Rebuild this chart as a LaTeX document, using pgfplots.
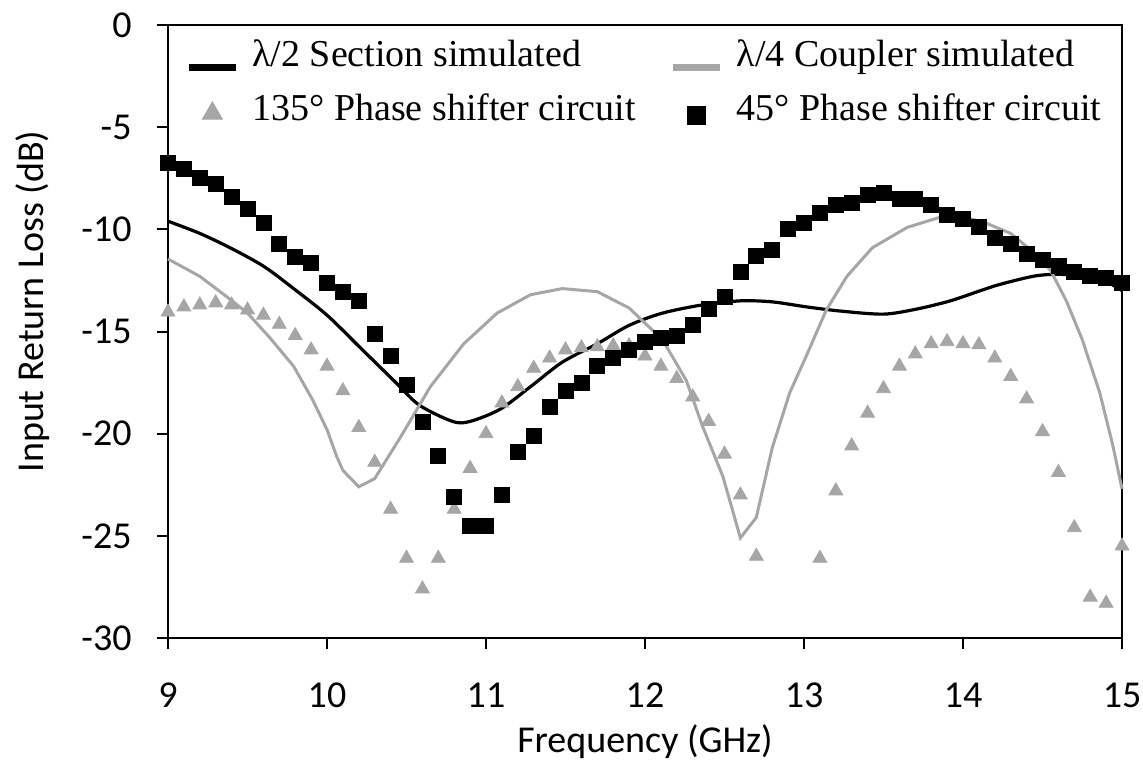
\documentclass[border=0pt]{standalone}
\usepackage{fontspec}
\setmainfont{Carlito}
\newfontfamily\legendfont{Liberation Serif}
\usepackage{pgfplots}
\pgfplotsset{compat=1.18}
\definecolor{ltgray}{HTML}{A6A6A6}

\pgfplotsset{
  lineleg/.style={legend image code/.code={\draw[##1, line width=3.5pt] (0pt,-5pt) -- (23.5pt,-5pt);}},
  triLeg/.style={legend image code/.code={\draw[##1, mark size=5.8pt] plot coordinates {(11.75pt,-1pt)};}},
  sqLeg/.style={legend image code/.code={\draw[##1, mark size=4.5pt] plot coordinates {(11.75pt,-2pt)};}},
}

\begin{document}
\fontsize{19}{23}\selectfont
\begin{tikzpicture}
\begin{axis}[
  scale only axis, width=477pt, height=306.5pt,
  xmin=9, xmax=15, ymin=-30, ymax=0,
  xtick={9,10,...,15}, ytick={-30,-25,...,0},
  xtick pos=left, ytick pos=left,
  tick align=outside, major tick length=5.5pt,
  axis line style={line width=1pt},
  every tick/.style={black, line width=1pt},
  /pgf/number format/assume math mode=true,
  ticklabel style={font=\fontsize{19}{23}\selectfont},
  xticklabel style={anchor=base, inner sep=0pt, yshift=-29pt},
  yticklabel style={anchor=east, inner sep=0pt, xshift=-12.5pt},
  xlabel={Frequency (GHz)},
  ylabel={Input Return Loss (dB)},
  xlabel style={at={(axis description cs:0.5,0)}, anchor=base, inner sep=0pt, yshift=-57pt},
  ylabel style={at={(axis description cs:-0.131,0.549)}, anchor=base, inner sep=0pt},
  clip=false,
  legend columns=2,
  legend cell align=left,
  legend style={draw=none, fill=none, at={(rel axis cs:0,1)}, anchor=north west,
    xshift=8.5pt, yshift=-7.5pt, inner sep=0pt,
    font=\legendfont\fontsize{19}{22}\selectfont, row sep=10pt,
    nodes={inner sep=0pt, text height=13pt, text depth=4pt},
    /tikz/every odd column/.append style={column sep=6.5pt},
    /tikz/every even column/.append style={column sep=17pt}},
]

% lambda/2 section simulated
\addplot[black, line width=1.6pt, smooth, tension=0.5, lineleg]
coordinates {(9.0,-9.6) (9.2,-10.2) (9.39,-10.9) (9.6,-11.8) (9.79,-12.9) (10.0,-14.2)
 (10.21,-15.8) (10.42,-17.4) (10.58,-18.6) (10.79,-19.4) (10.9,-19.4) (11.09,-18.8)
 (11.28,-17.7) (11.48,-16.5) (11.7,-15.6) (11.9,-14.7) (12.11,-14.1) (12.36,-13.7)
 (12.6,-13.5) (12.8,-13.55) (13.02,-13.8) (13.23,-14.0) (13.5,-14.15) (13.71,-13.9)
 (13.92,-13.5) (14.11,-13.0) (14.23,-12.7) (14.44,-12.3) (14.59,-12.2) (14.78,-12.3)
 (14.91,-12.6) (15.0,-13.0)};
\addlegendentry{λ/2 Section simulated}

% lambda/4 coupler simulated
\addplot[ltgray, line width=1.5pt, lineleg]
coordinates {(9.0,-11.45) (9.2,-12.3) (9.37,-13.3) (9.5,-14.1) (9.64,-15.3) (9.79,-16.7)
 (9.91,-18.35) (10.0,-19.8) (10.06,-21.1) (10.1,-21.8) (10.2,-22.6) (10.3,-22.2)
 (10.46,-20.2) (10.65,-17.7) (10.86,-15.6) (11.07,-14.1) (11.28,-13.2) (11.48,-12.9)
 (11.7,-13.05) (11.9,-13.85) (12.11,-15.4) (12.26,-17.4) (12.36,-19.6) (12.49,-22.1)
 (12.6,-25.1) (12.7,-24.1) (12.8,-20.7) (12.91,-18.0) (13.02,-16.1) (13.14,-13.95)
 (13.27,-12.3) (13.43,-10.9) (13.65,-9.9) (13.86,-9.4) (13.98,-9.35) (14.13,-9.65)
 (14.3,-10.2) (14.44,-11.1) (14.55,-12.0) (14.65,-13.5) (14.75,-15.4) (14.86,-18.0)
 (14.94,-20.5) (15.0,-22.7)};
\addlegendentry{λ/4 Coupler simulated}

% 135 deg phase shifter circuit
\addplot[only marks, mark=triangle*, mark size=4pt, mark options={draw=ltgray, fill=ltgray}, triLeg]
coordinates {(9.0,-14.05) (9.1,-13.8) (9.2,-13.7) (9.3,-13.6) (9.4,-13.7) (9.5,-13.95)
 (9.6,-14.2) (9.7,-14.65) (9.8,-15.2) (9.9,-15.9) (10.0,-16.7) (10.1,-17.9) (10.2,-19.7)
 (10.3,-21.4) (10.4,-23.7) (10.5,-26.1) (10.6,-27.6) (10.7,-26.1) (10.8,-23.7)
 (10.9,-21.7) (11.0,-20.0) (11.1,-18.5) (11.2,-17.7) (11.3,-16.8) (11.4,-16.3)
 (11.5,-15.9) (11.6,-15.8) (11.7,-15.75) (11.8,-15.7) (11.9,-15.7) (12.0,-16.2)
 (12.1,-16.7) (12.2,-17.3) (12.3,-18.2) (12.4,-19.4) (12.5,-21.0) (12.6,-23.0)
 (12.7,-26.0) (13.1,-26.1) (13.2,-22.8) (13.3,-20.6) (13.4,-19.0) (13.5,-17.8)
 (13.6,-16.7) (13.7,-16.1) (13.8,-15.6) (13.9,-15.5) (14.0,-15.6) (14.1,-15.65)
 (14.2,-16.3) (14.3,-17.2) (14.4,-18.3) (14.5,-19.9) (14.6,-21.9) (14.7,-24.6)
 (14.8,-28.0) (14.9,-28.3) (15.0,-25.5)};
\addlegendentry{135° Phase shifter circuit}

% 45 deg phase shifter circuit
\addplot[only marks, mark=square*, mark size=3.75pt, mark options={draw=black, fill=black}, sqLeg]
coordinates {(9.0,-6.75) (9.1,-7.05) (9.2,-7.5) (9.3,-7.8) (9.4,-8.4) (9.5,-9.0)
 (9.6,-9.7) (9.7,-10.7) (9.8,-11.35) (9.9,-11.65) (10.0,-12.6) (10.1,-13.05)
 (10.2,-13.5) (10.3,-15.1) (10.4,-16.2) (10.5,-17.6) (10.6,-19.4) (10.7,-21.1)
 (10.8,-23.1) (10.9,-24.5) (11.0,-24.5) (11.1,-23.0) (11.2,-20.9) (11.3,-20.1)
 (11.4,-18.7) (11.5,-17.9) (11.6,-17.5) (11.7,-16.7) (11.8,-16.3) (11.9,-15.9)
 (12.0,-15.5) (12.1,-15.3) (12.2,-15.2) (12.3,-14.7) (12.4,-13.9) (12.5,-13.3)
 (12.6,-12.1) (12.7,-11.3) (12.8,-11.0) (12.9,-10.0) (13.0,-9.7) (13.1,-9.2)
 (13.2,-8.8) (13.3,-8.7) (13.4,-8.3) (13.5,-8.2) (13.6,-8.5) (13.7,-8.5) (13.8,-8.8)
 (13.9,-9.3) (14.0,-9.5) (14.1,-9.9) (14.2,-10.4) (14.3,-10.7) (14.4,-11.2)
 (14.5,-11.5) (14.6,-11.8) (14.7,-12.1) (14.8,-12.3) (14.9,-12.4) (15.0,-12.6)};
\addlegendentry{45° Phase shifter circuit}
\end{axis}
\pgfresetboundingbox
\path (current axis.south west) ++(-84pt,-60.5pt) coordinate (bl);
\path (current axis.north east) ++(10.5pt,12.5pt) coordinate (tr);
\path (bl) rectangle (tr);
\end{tikzpicture}
\end{document}
